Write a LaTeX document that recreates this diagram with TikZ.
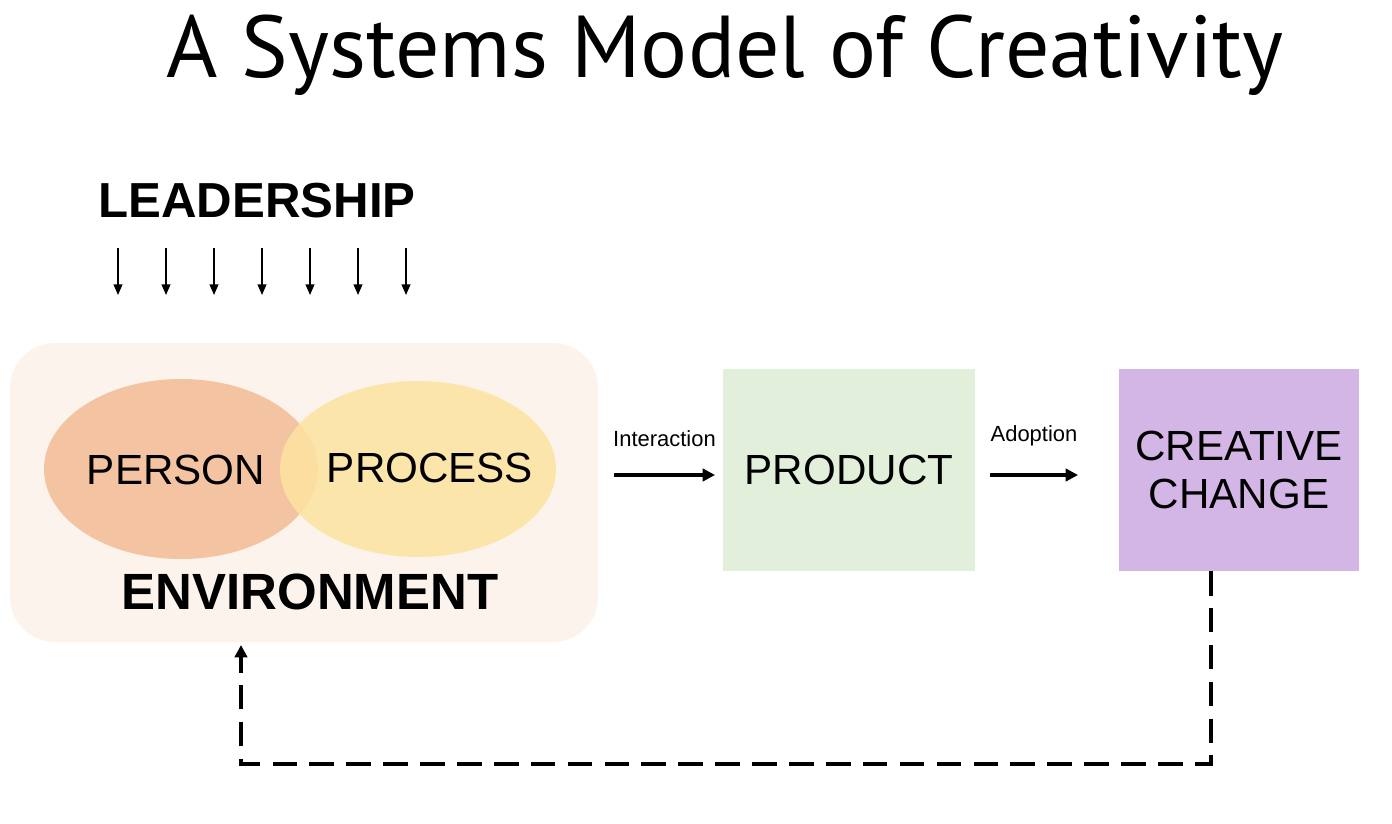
\documentclass[tikz,border=0pt]{standalone}
\usepackage{fontspec}
\setmainfont{Liberation Sans}
\newfontfamily\titlefont{PT Sans}
\usetikzlibrary{positioning, arrows.meta, calc}
\definecolor{envfill}{HTML}{FCF3EC}
\definecolor{personfill}{HTML}{F2B48A}
\definecolor{processfill}{HTML}{FDE3A0}
\definecolor{productfill}{HTML}{E2EFDA}
\definecolor{changefill}{HTML}{D3B5E6}
\tikzset{
  box/.style={minimum width=5.04cm, minimum height=4.04cm, inner sep=0pt, align=center, font=\fontsize{24}{27}\selectfont},
  flow/.style={-{Triangle[length=7pt,width=7pt]}, line width=2pt},
  lead/.style={-{Triangle[length=6pt,width=5pt]}, line width=0.8pt},
  small/.style={font=\fontsize{12.5}{14}\selectfont}
}
\begin{document}
\begin{tikzpicture}[x=0.02cm, y=-0.02cm]
\useasboundingbox (0,0) rectangle (1392,824);
\fill[white] (0,0) rectangle (1392,824);

\node (title) at (725,55) {\titlefont\fontsize{50}{56}\selectfont A Systems Model of Creativity};
\node (lead) at (257,201) {\fontsize{28}{32}\selectfont\bfseries LEADERSHIP};
\foreach \x in {118,166,214,262,310,358,406}
  \draw[lead] (\x,248) -- (\x,295);

% environment
\fill[envfill, rounded corners=0.9cm] (10,343) rectangle (598,642);
\coordinate (env) at (241,645);
\fill[personfill, opacity=0.75] (181,469) ellipse [x radius=137, y radius=90];
\fill[processfill, opacity=0.85] (418,469) ellipse [x radius=138, y radius=88];
\node (person) at (176,470) {\fontsize{24}{27}\selectfont PERSON};
\node (process) at (430,468) {\fontsize{24}{27}\selectfont PROCESS};
\node (environment) at (310,592) {\fontsize{29}{33}\selectfont\bfseries ENVIRONMENT};

% product and change
\node[box, fill=productfill] (product) at (849,470) {PRODUCT};
\node[box, fill=changefill, minimum width=4.8cm] (change) at (1239,470) {CREATIVE\\CHANGE};

\coordinate (ia) at (614,475);
\coordinate (ib) at (715,475);
\draw[flow] (ia) -- (ib) node[small, midway, above=12pt] {Interaction};
\coordinate (ad) at (990,475);
\coordinate (ae) at (1078,475);
\draw[flow] (ad) -- (ae) node[small, midway, above=12pt] {Adoption};

% feedback
\coordinate (fb) at (1211,571);
\draw[flow, dash pattern=on 14pt off 7pt, line width=2.2pt]
  (fb) -- (1211,764) -- (241,764) -- (env);
\end{tikzpicture}
\end{document}
